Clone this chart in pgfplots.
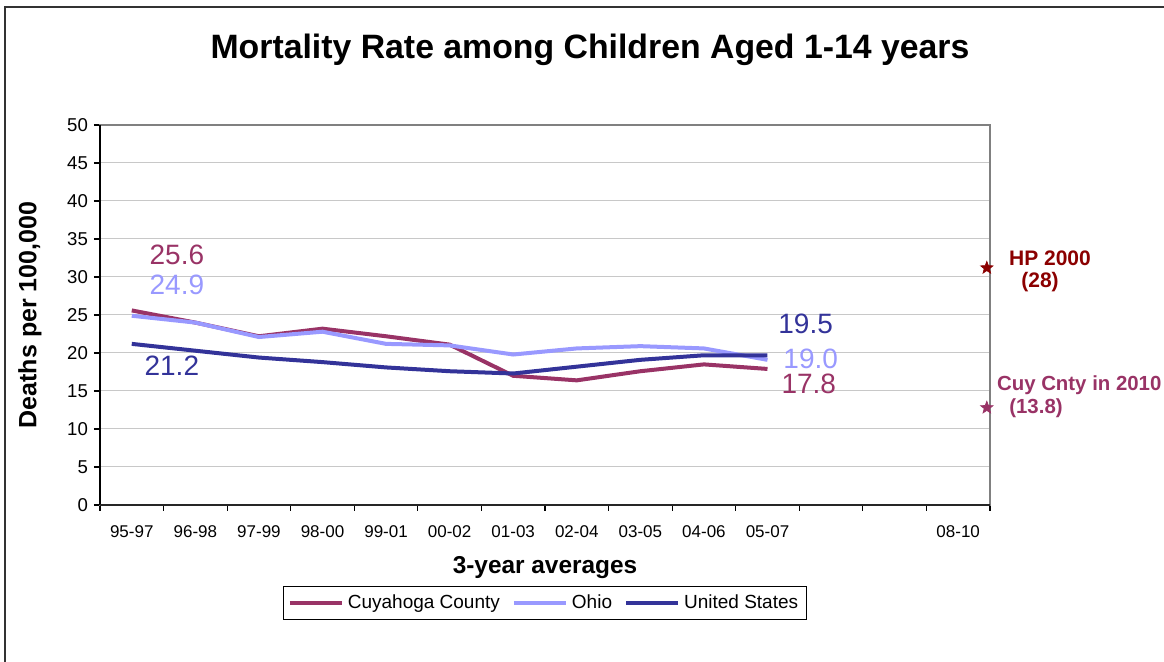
\documentclass[border=0pt]{standalone}
\usepackage{pgfplots}
\pgfplotsset{compat=1.18}
\usepackage{fontspec}
\setmainfont{Liberation Sans}
\definecolor{cuy}{HTML}{993366}
\definecolor{ohio}{HTML}{9999FF}
\definecolor{us}{HTML}{333399}
\definecolor{hp}{HTML}{8B0000}
\definecolor{gridc}{HTML}{C8C8C8}
\pgfdeclareplotmark{fstar}{%
  \pgfpathmoveto{\pgfpointpolar{90}{\pgfplotmarksize}}%
  \pgfpathlineto{\pgfpointpolar{126}{0.42\pgfplotmarksize}}%
  \pgfpathlineto{\pgfpointpolar{162}{\pgfplotmarksize}}%
  \pgfpathlineto{\pgfpointpolar{198}{0.42\pgfplotmarksize}}%
  \pgfpathlineto{\pgfpointpolar{234}{\pgfplotmarksize}}%
  \pgfpathlineto{\pgfpointpolar{270}{0.42\pgfplotmarksize}}%
  \pgfpathlineto{\pgfpointpolar{306}{\pgfplotmarksize}}%
  \pgfpathlineto{\pgfpointpolar{342}{0.42\pgfplotmarksize}}%
  \pgfpathlineto{\pgfpointpolar{18}{\pgfplotmarksize}}%
  \pgfpathlineto{\pgfpointpolar{54}{0.42\pgfplotmarksize}}%
  \pgfpathclose
  \pgfusepathqfillstroke}
\begin{document}
\begin{tikzpicture}[x=0.5pt,y=0.5pt]
\useasboundingbox (0,0) rectangle (1164,662);
\draw[line width=1pt,black!80] (5,-8) -- (5,655) -- (1170,655);
\node[font=\fontsize{16.9}{19}\selectfont\bfseries] at (590,612) {Mortality Rate among Children Aged 1-14 years};
\node[font=\fontsize{12.5}{15}\selectfont\bfseries,rotate=90] at (30,347) {Deaths per 100,000};
\node[font=\fontsize{12.2}{15}\selectfont\bfseries] at (545,94) {3-year averages};
\coordinate (A) at (100,157);
\begin{axis}[
  at={(A)}, anchor=south west,
  scale only axis, width=445pt, height=190pt,
  xmin=-0.5, xmax=13.5, ymin=0, ymax=50,
  ytick={0,5,...,50},
  xtick={0,1,2,3,4,5,6,7,8,9,10,13},
  xticklabels={95-97,96-98,97-99,98-00,99-01,00-02,01-03,02-04,03-05,04-06,05-07,08-10},
  minor xtick={-0.5,0.5,...,13.5},
  major x tick style={draw=none},
  minor x tick style={black, line width=0.6pt},
  minor tick length=3pt,
  major tick length=3pt,
  tick align=outside,
  tick pos=left,
  ymajorgrids, grid style={gridc, line width=0.5pt},
  axis line style={draw=gray, line width=0.8pt},
  y tick style={black, line width=0.6pt},
  /pgf/number format/assume math mode=true,
  yticklabel style={font=\fontsize{9.3}{11}\selectfont, xshift=0.5pt},
  xticklabel style={font=\fontsize{8.5}{10}\selectfont, yshift=-4pt},
  clip=false,
  legend style={at={(0.5,-0.258)}, anchor=center, draw=black, line width=0.5pt,
    font=\fontsize{9.5}{11}\selectfont, legend columns=3,
    /tikz/every even column/.append style={column sep=4pt},
    inner sep=2pt},
  legend image code/.code={\draw[#1] (0pt,0pt) -- (26pt,0pt);},
]
\addplot[cuy, line width=2pt] coordinates {(0,25.6) (1,24.0) (2,22.2) (3,23.2) (4,22.2) (5,21.1) (6,17.0) (7,16.4) (8,17.6) (9,18.5) (10,17.9)};
\addlegendentry{Cuyahoga County}
\addplot[ohio, line width=2pt] coordinates {(0,24.9) (1,24.0) (2,22.1) (3,22.8) (4,21.2) (5,21.0) (6,19.8) (7,20.6) (8,20.9) (9,20.6) (10,19.1)};
\addlegendentry{Ohio}
\addplot[us, line width=2pt] coordinates {(0,21.2) (1,20.3) (2,19.4) (3,18.8) (4,18.1) (5,17.6) (6,17.3) (7,18.2) (8,19.1) (9,19.7) (10,19.7)};
\addlegendentry{United States}
\addplot[hp, fill=hp, only marks, mark=fstar, mark size=3.3pt, line width=0.3pt, forget plot] coordinates {(13.45,31.2)};
\addplot[cuy, fill=cuy, only marks, mark=fstar, mark size=3.3pt, line width=0.3pt, forget plot] coordinates {(13.45,12.8)};
\draw[black, line width=0.8pt] (rel axis cs:0,0) -- (rel axis cs:0,1);
\draw[black!85, line width=1.2pt] (rel axis cs:0,0) -- (rel axis cs:1,0);
\node[cuy, font=\fontsize{14}{16}\selectfont] at (axis cs:0.71,32.9) {25.6};
\node[ohio, font=\fontsize{14}{16}\selectfont] at (axis cs:0.71,28.9) {24.9};
\node[us, font=\fontsize{14}{16}\selectfont] at (axis cs:0.63,18.3) {21.2};
\node[us, font=\fontsize{14}{16}\selectfont] at (axis cs:10.6,23.8) {19.5};
\node[ohio, font=\fontsize{14}{16}\selectfont] at (axis cs:10.68,19.2) {19.0};
\node[cuy, font=\fontsize{14}{16}\selectfont] at (axis cs:10.65,15.9) {17.8};
\end{axis}
\node[hp, font=\fontsize{10.5}{12}\selectfont\bfseries] at (1050,404) {HP 2000};
\node[hp, font=\fontsize{10.5}{12}\selectfont\bfseries] at (1040,380) {(28)};
\node[cuy, font=\fontsize{10.2}{12}\selectfont\bfseries, anchor=west] at (990,277) {Cuy Cnty in 2010};
\node[cuy, font=\fontsize{10.2}{12}\selectfont\bfseries] at (1036,254) {(13.8)};
\end{tikzpicture}
\end{document}
